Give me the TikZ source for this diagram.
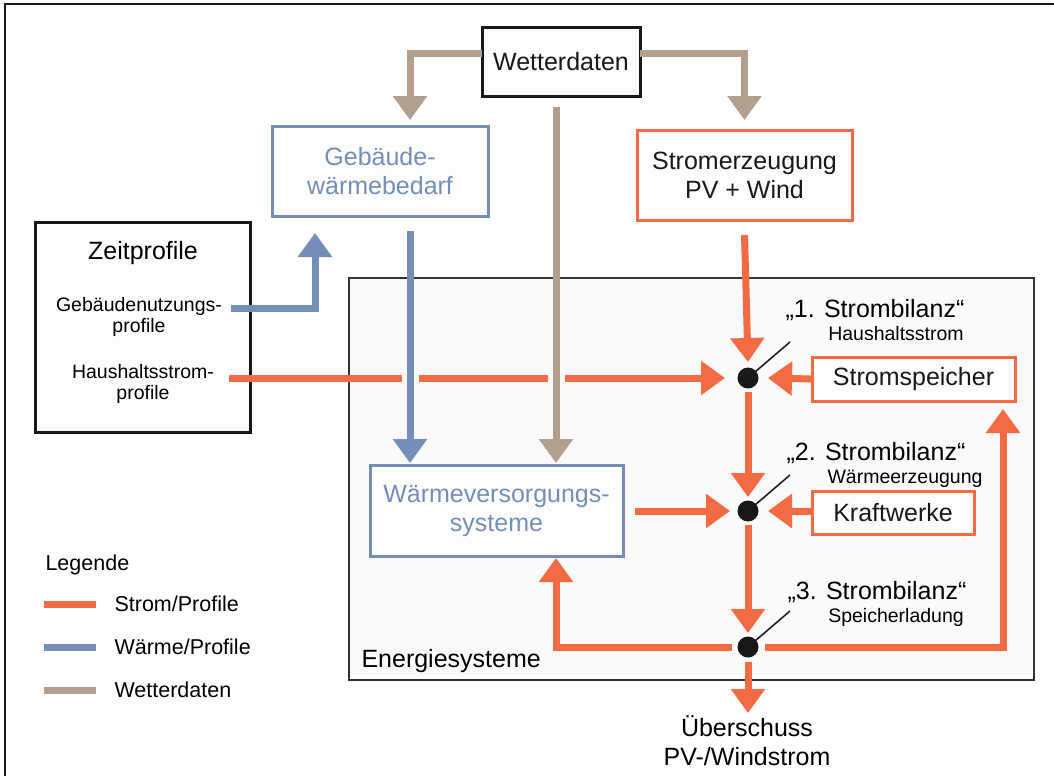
\documentclass[tikz,border=0pt]{standalone}
\usepackage{fontspec}
\setmainfont{Liberation Sans}
\usetikzlibrary{arrows.meta,calc}
\definecolor{strom}{RGB}{242,107,66}
\definecolor{waerme}{RGB}{116,143,183}
\definecolor{wetter}{RGB}{176,160,141}
\definecolor{esfill}{RGB}{250,250,250}
\definecolor{boxfill}{RGB}{253,253,253}
\tikzset{
  big/.style={font=\fontsize{25}{29}\selectfont},
  small/.style={font=\fontsize{19.5}{21.5}\selectfont},
  leg/.style={font=\fontsize{21.5}{24}\selectfont},
  box/.style={draw, line width=3pt, fill=boxfill, inner sep=0pt, outer sep=0pt, big, align=center},
  flow/.style={line width=7pt, -{Triangle[width=33pt,length=24pt]}},
  plain/.style={line width=7pt},
  sflow/.style={flow, strom},
  wflow/.style={flow, waerme},
  bflow/.style={flow, wetter},
  dot/.style={circle, fill=black!90, inner sep=0pt, minimum size=21pt},
  slash/.style={line width=1.5pt, black!90},
  gap/.style={line width=17pt, esfill}
}
\begin{document}
\begin{tikzpicture}[x=1pt,y=-1pt]
\useasboundingbox (0,0) rectangle (1054,776);
\fill[white] (0,0) rectangle (1054,776);
% outer frame (top and left visible)
\draw[line width=2.5pt, black!90] (5,776) -- (5,4) -- (1054,4);

% Energiesysteme
\node[draw=black!80, line width=1.5pt, fill=esfill, inner sep=0pt, minimum width=685pt, minimum height=402pt, anchor=north west] (es) at (348,277) {};
\node[big, anchor=west] (eslab) at (358,661) {Energiesysteme};

% boxes
\node[box, draw=black!90, text=black!90, minimum width=158pt, minimum height=68pt] (wd) at (561,62) {Wetterdaten};
\node[box, draw=waerme, text=waerme, minimum width=216pt, minimum height=90pt] (geb) at (380,171) {Gebäude-\\wärmebedarf};
\node[box, draw=strom, text=black!90, minimum width=215pt, minimum height=90pt] (se) at (744.5,175) {Stromerzeugung\\PV + Wind};
\node[box, draw=black!90, minimum width=215pt, minimum height=210pt] (zp) at (142.5,327) {};
\node[big] (zpt) at (143,253) {Zeitprofile};
\node[small, align=center] (gnp) at (139,317) {Gebäudenutzungs-\\profile};
\node[small, align=center] (hsp) at (143,384) {Haushaltsstrom-\\profile};
\node[box, draw=waerme, text=waerme, minimum width=253pt, minimum height=91pt] (wv) at (496.5,510.5) {Wärmeversorgungs-\\systeme};
\node[box, draw=strom, text=black!90, minimum width=203pt, minimum height=44pt] (ss) at (913.5,379) {Stromspeicher};
\node[box, draw=strom, text=black!90, minimum width=162pt, minimum height=43pt] (kw) at (893,512.5) {Kraftwerke};

% balance nodes
\node[dot] (d1) at (748,378) {};
\node[dot] (d2) at (748,511) {};
\node[dot] (d3) at (748,647) {};
\coordinate (s1) at (790,342);
\coordinate (s2) at (790,475);
\coordinate (s3) at (790,611);
\draw[slash] (d1.center) -- (s1);
\draw[slash] (d2.center) -- (s2);
\draw[slash] (d3.center) -- (s3);
\node[big] (l1) at (875,310) {„1. Strombilanz“};
\node[small] (l1b) at (896,334) {Haushaltsstrom};
\node[big] (l2) at (876,453) {„2. Strombilanz“};
\node[small] (l2b) at (905,479) {Wärmeerzeugung};
\node[big] (l3) at (877,592) {„3. Strombilanz“};
\node[small] (l3b) at (896,617) {Speicherladung};

% Haushaltsstrom line (drawn first, gaps cut by crossing lines)
\draw[sflow] (229,378) -- ([xshift=-23pt]d1.center);
\draw[gap] (410,368) -- (410,388);
\draw[gap] (556,368) -- (556,388);

% weather arrows
\draw[bflow] (wd.west |- 0,54) -| ([xshift=30pt,yshift=6pt]geb.north);
\draw[bflow] (wd.east |- 0,54) -| ([yshift=10pt]se.north);
\draw[bflow] ([yshift=-11pt]wd.south -| 556,0) -- ([yshift=2pt]wv.north -| 556,0);

% heat arrows
\draw[wflow] ([yshift=-15pt]geb.south -| 410,0) -- ([yshift=2pt]wv.north -| 410,0);
\draw[wflow] (231,308) -| ([yshift=-17pt]geb.south -| 315,0);

% power arrows
\draw[sflow] ([yshift=-15pt]se.south) -- ([yshift=16pt]d1.center);
\draw[sflow] (ss.west) -- ([xshift=20pt]d1.center);
\draw[sflow] ([yshift=-14pt]d1.center) -- ([yshift=14pt]d2.center);
\draw[sflow] ([xshift=12pt]wv.east |- d2) -- ([xshift=-18pt]d2.center);
\draw[sflow] (kw.west |- d2) -- ([xshift=20pt]d2.center);
\draw[sflow] ([yshift=-14pt]d2.center) -- ([yshift=14pt]d3.center);
\draw[sflow] ([xshift=-16pt]d3.center) -| ([yshift=-2pt]wv.south -| 556,0);
\draw[sflow] ([xshift=17pt]d3.center) -| ([yshift=-8pt]ss.south -| 1003,0);
\draw[sflow] ([yshift=-15pt]d3.center) -- ++(0,51) coordinate (ue);
\node[big, align=center, anchor=north] (uet) at (747,712) {Überschuss\\PV-/Windstrom};

% legend
\node[leg, anchor=west] (lg) at (42,565) {Legende};
\draw[plain, strom] (44,604) -- (96,604) coordinate (lgs);
\draw[plain, waerme] (44,647) -- (96,647) coordinate (lgw);
\draw[plain, wetter] (44,690) -- (96,690) coordinate (lgb);
\node[leg, anchor=west] at (111,604) {Strom/Profile};
\node[leg, anchor=west] at (111,647) {Wärme/Profile};
\node[leg, anchor=west] at (111,690) {Wetterdaten};
\end{tikzpicture}
\end{document}
